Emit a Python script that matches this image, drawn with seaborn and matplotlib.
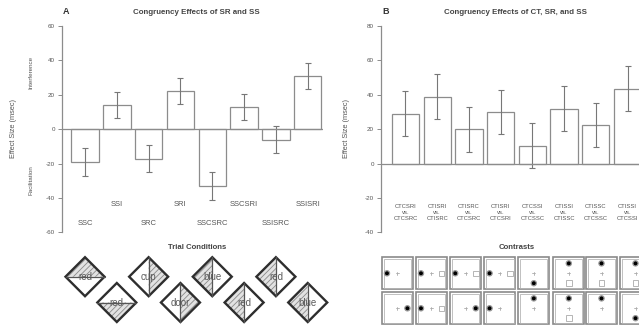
import numpy as np
import pandas as pd
import seaborn as sns
import matplotlib.pyplot as plt
from matplotlib.patches import Polygon, Rectangle, Circle

# Panel A: congruency effects of SR and SS
cond_a = ['SSC', 'SSI', 'SRC', 'SRI', 'SSCSRC', 'SSCSRI', 'SSISRC', 'SSISRI']
effect_a = [-19, 14, -17, 22, -33, 13, -6, 31]
err_a = [8, 7.5, 8, 7.5, 8, 7.5, 8, 7.5]

# Panel B: congruency effects of CT, SR, and SS
contrast_b = ['CTCSRI\nvs.\nCTCSRC', 'CTISRI\nvs.\nCTISRC', 'CTISRC\nvs.\nCTCSRC',
              'CTISRI\nvs.\nCTCSRI', 'CTCSSI\nvs.\nCTCSSC', 'CTISSI\nvs.\nCTISSC',
              'CTISSC\nvs.\nCTCSSC', 'CTISSI\nvs.\nCTCSSI']
effect_b = [29, 39, 20, 30, 10.5, 32, 22.5, 43.5]
err_b = [13, 13, 13, 13, 13, 13, 13, 13]

# trial condition icons (word, which half is hatched)
words = ['red', 'red', 'cup', 'door', 'blue', 'red', 'red', 'blue']
halves = ['top', 'bottom', 'right', 'right', 'left', 'left', 'left', 'left']

# contrast icons: (dot side, has box) for row 1 and row 2
icons_row1 = [('L', False), ('L', True), ('L', True), ('L', True),
              ('B', False), ('T', True), ('T', True), ('T', True)]
icons_row2 = [('R', False), ('L', True), ('R', False), ('L', False),
              ('T', False), ('T', True), ('T', False), ('B', False)]

sns.set_style('white')
plt.rcParams['font.family'] = ['Liberation Sans Narrow', 'Liberation Sans', 'DejaVu Sans']
plt.rcParams['axes.unicode_minus'] = False
plt.rcParams['hatch.linewidth'] = 0.6

W, H = 639, 327
fig = plt.figure(figsize=(W / 100, H / 100), dpi=100)

# overlay in pixel coordinates for free text and icons
ov = fig.add_axes([0, 0, 1, 1])
ov.set_xlim(0, W)
ov.set_ylim(H, 0)
ov.axis('off')

ax_a = fig.add_axes([62 / W, 0.289, 261 / W, 0.6315])
ax_b = fig.add_axes([381 / W, 0.289, 264 / W, 0.6315])

edge = '#8c8c8c'
txt = '#555555'

df_a = pd.DataFrame({'condition': cond_a, 'effect': effect_a})
sns.barplot(data=df_a, x='condition', y='effect', ax=ax_a, color='white',
            edgecolor=edge, linewidth=0.9, width=0.86, errorbar=None)
ax_a.errorbar(np.arange(len(cond_a)), effect_a, yerr=err_a, fmt='none',
              ecolor='#777777', elinewidth=0.8, capsize=2.2, capthick=0.8)
ax_a.set_xlim(-0.723, 7.48)
ax_a.set_ylim(-60, 60)
ax_a.set_yticks(range(-60, 61, 20))
for i, c in enumerate(cond_a):
    ax_a.text(i, -43.9 if i % 2 else -54.5, c, ha='center', va='center',
              fontsize=5.5, color=txt)

df_b = pd.DataFrame({'contrast': contrast_b, 'effect': effect_b})
sns.barplot(data=df_b, x='contrast', y='effect', ax=ax_b, color='white',
            edgecolor=edge, linewidth=0.9, width=0.86, errorbar=None)
ax_b.errorbar(np.arange(len(contrast_b)), effect_b, yerr=err_b, fmt='none',
              ecolor='#777777', elinewidth=0.8, capsize=2.2, capthick=0.8)
ax_b.set_xlim(-0.772, 7.55)
ax_b.set_ylim(-40, 80)
ax_b.set_yticks(range(-40, 81, 20))
for i, c in enumerate(contrast_b):
    ax_b.text(i, -28.5, c, ha='center', va='center', fontsize=4.2,
              color=txt, linespacing=1.2)

for ax in (ax_a, ax_b):
    ax.axhline(0, color=edge, lw=0.9)
    ax.set_xticks([])
    ax.set_xlabel('')
    ax.set_ylabel('')
    ax.patch.set_alpha(0)
    for s in ('top', 'right', 'bottom'):
        ax.spines[s].set_visible(False)
    ax.spines['left'].set_color(edge)
    ax.spines['left'].set_linewidth(0.9)
    ax.tick_params(axis='y', left=True, length=3, width=0.7, color=edge,
                   labelsize=4.5, labelcolor=txt, pad=2)

# titles and labels
ov.text(66, 12, 'A', ha='center', va='center', fontsize=6.5, weight='bold', color='#333')
ov.text(196, 12.7, 'Congruency Effects of SR and SS', ha='center', va='center',
        fontsize=5.7, weight='bold', color='#444')
ov.text(385.5, 12, 'B', ha='center', va='center', fontsize=6.5, weight='bold', color='#333')
ov.text(516, 12.7, 'Congruency Effects of CT, SR, and SS', ha='center', va='center',
        fontsize=5.7, weight='bold', color='#444')
ov.text(13.5, 129, 'Effect Size (msec)', rotation=90, ha='center', va='center',
        fontsize=5.3, color=txt)
ov.text(346, 129, 'Effect Size (msec)', rotation=90, ha='center', va='center',
        fontsize=5.3, color=txt)
ov.text(31, 72, 'Interference', rotation=90, ha='center', va='center',
        fontsize=4.5, color=txt)
ov.text(31, 180, 'Facilitation', rotation=90, ha='center', va='center',
        fontsize=4.5, color=txt)
ov.text(197, 247.3, 'Trial Conditions', ha='center', va='center',
        fontsize=5.6, weight='bold', color='#444')
ov.text(516.5, 247.3, 'Contrasts', ha='center', va='center',
        fontsize=5.6, weight='bold', color='#444')

# diamonds under panel A, one per bar
fig.canvas.draw()
r = 19.5
for i, (w, half) in enumerate(zip(words, halves)):
    px = ax_a.transData.transform((i, 0))[0]
    cy = 276.7 if i % 2 == 0 else 302.5
    top, right = (px, cy - r), (px + r, cy)
    bottom, left = (px, cy + r), (px - r, cy)
    if half == 'top':
        pts, line = [left, top, right], (left, right)
    elif half == 'bottom':
        pts, line = [left, bottom, right], (left, right)
    elif half == 'left':
        pts, line = [top, left, bottom], (top, bottom)
    else:
        pts, line = [top, right, bottom], (top, bottom)
    ov.add_patch(Polygon([top, right, bottom, left], closed=True,
                         facecolor='white', edgecolor='none'))
    ov.add_patch(Polygon(pts, closed=True, facecolor='#e2e2e2',
                         edgecolor='#8a8a8a', hatch='//////', linewidth=0))
    ov.plot([line[0][0], line[1][0]], [line[0][1], line[1][1]],
            color='#555', lw=0.9)
    ov.add_patch(Polygon([top, right, bottom, left], closed=True,
                         facecolor='none', edgecolor='#2e2e2e', linewidth=1.7))
    ov.text(px, cy, w, ha='center', va='center', fontsize=7,
            family=['Liberation Sans', 'DejaVu Sans'], color='#5a5a5a')

# contrast squares under panel B
sq_left = [381.7, 415.7, 450.0, 484.3, 518.3, 553.3, 586.0, 620.0]
sq_top = [257.3, 292.3]
sw, sh = 31, 32
side_pos = {'L': (0.17, 0.5), 'R': (0.83, 0.5), 'T': (0.5, 0.19), 'B': (0.5, 0.81)}
opposite = {'L': 'R', 'R': 'L', 'T': 'B', 'B': 'T'}
for row, icons in zip(sq_top, (icons_row1, icons_row2)):
    for x0, (side, box) in zip(sq_left, icons):
        ov.add_patch(Rectangle((x0, row), sw, sh, facecolor='white',
                               edgecolor='#8a8a8a', linewidth=1.2))
        ov.add_patch(Rectangle((x0 + 1.8, row + 1.8), sw - 3.6, sh - 3.6,
                               facecolor='none', edgecolor='#b5b5b5', linewidth=0.6))
        cx, cy = x0 + sw / 2, row + sh / 2
        ov.plot([cx - 1.6, cx + 1.6], [cy, cy], color='#aaa', lw=0.6)
        ov.plot([cx, cx], [cy - 1.6, cy + 1.6], color='#aaa', lw=0.6)
        fx, fy = side_pos[side]
        ov.add_patch(Circle((x0 + fx * sw, row + fy * sh), 2.6,
                            facecolor='black', edgecolor='#999', linewidth=0.9))
        if box:
            bx, by = side_pos[opposite[side]]
            ov.add_patch(Rectangle((x0 + bx * sw - 2.8, row + by * sh - 2.8), 5.6, 5.6,
                                   facecolor='none', edgecolor='#aaa', linewidth=0.6))

fig.savefig('out.png', dpi=100, facecolor='white')
